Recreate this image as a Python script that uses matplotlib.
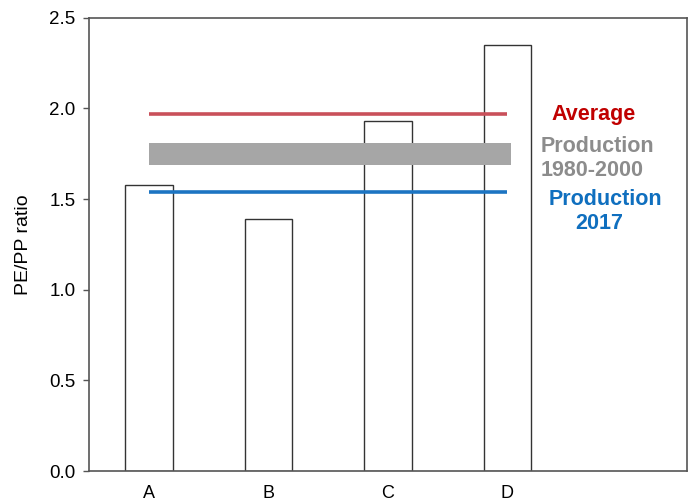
import matplotlib
matplotlib.use("Agg")
import matplotlib.pyplot as plt
import numpy as np

categories = ["A", "B", "C", "D"]
values = [1.58, 1.39, 1.93, 2.35]
average = 1.97
prod_1980_2000 = (1.69, 1.81)
prod_2017 = 1.54
yticks = [0.0, 0.5, 1.0, 1.5, 2.0, 2.5]

plt.rcParams['font.family'] = ['Liberation Sans', 'DejaVu Sans']

fig = plt.figure(figsize=(6.92, 5.03), dpi=100)
ax = fig.add_axes([89.3/692, 1 - 471/503, (686.7-89.3)/692, (471-17.7)/503])

x = np.arange(len(categories)) + 0.5
ax.bar(x, values, width=0.4, color='white', edgecolor='#333333', linewidth=1.0, zorder=2)

x0, x1 = x[0], x[-1]
ax.fill_between([x0, x1 + 0.03], prod_1980_2000[0], prod_1980_2000[1],
                color='#a6a6a6', linewidth=0, zorder=3)
ax.plot([x0, x1], [average, average], color='#c9505a', linewidth=2.6, zorder=4,
        solid_capstyle='butt')
ax.plot([x0, x1], [prod_2017, prod_2017], color='#1c74c2', linewidth=2.6, zorder=4,
        solid_capstyle='butt')

fs = 15.5
ax.text(4.22, 1.965, "Average", color='#c00000', fontsize=fs, fontweight='bold',
        ha='center', va='center')
ax.text(3.78, 1.79, "Production", color='#8c8c8c', fontsize=fs, fontweight='bold',
        ha='left', va='center')
ax.text(3.78, 1.655, "1980-2000", color='#8c8c8c', fontsize=fs, fontweight='bold',
        ha='left', va='center')
ax.text(4.32, 1.50, "Production", color='#0f6fbf', fontsize=fs, fontweight='bold',
        ha='center', va='center')
ax.text(4.27, 1.365, "2017", color='#0f6fbf', fontsize=fs, fontweight='bold',
        ha='center', va='center')

ax.set_xlim(0, 5)
ax.set_ylim(0, 2.5)
ax.set_xticks(x)
ax.set_xticklabels(categories, fontsize=13)
ax.set_yticks(yticks)
ax.set_yticklabels([f"{t:.1f}" for t in yticks], fontsize=13.5)
ax.tick_params(axis='x', length=0, pad=10)
ax.tick_params(axis='y', length=4, width=1, color='#555555', pad=6, direction='out')
for s in ax.spines.values():
    s.set_color('#555555')
    s.set_linewidth(1.2)
ax.set_ylabel("PE/PP ratio", fontsize=14, labelpad=12)

fig.savefig("out.png", dpi=100)
